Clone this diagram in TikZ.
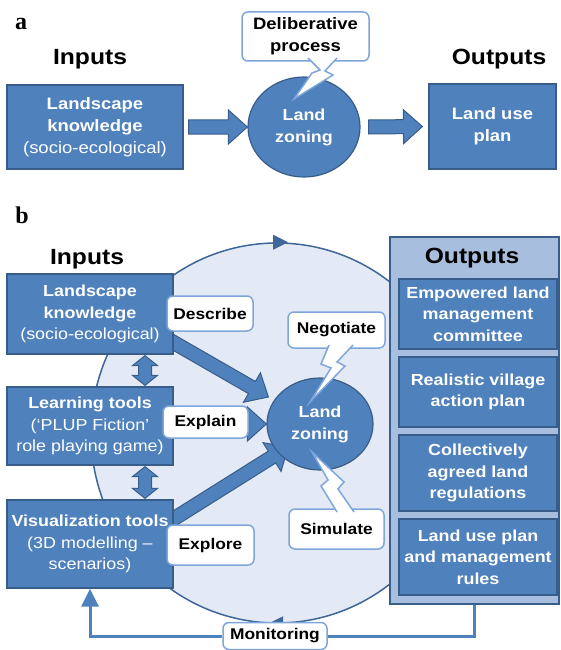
\documentclass[tikz,border=0pt]{standalone}
\usepackage{fontspec}
\setmainfont[FakeStretch=1.12]{Liberation Sans}
\newfontfamily\panelfont{Liberation Serif}
\usetikzlibrary{shapes.geometric,calc,arrows.meta}

\definecolor{boxblue}{HTML}{4F81BD}
\definecolor{boxedge}{HTML}{385D8A}
\definecolor{calledge}{HTML}{7EA6DB}
\definecolor{loopfill}{HTML}{E4EAF5}
\definecolor{loopedge}{HTML}{3E6699}
\definecolor{panelfill}{HTML}{A8BEDF}

\pgfdeclarelayer{bg}
\pgfdeclarelayer{mid}
\pgfsetlayers{bg,mid,main}

% fat arrow from #1 to #2
\newcommand\blockarrow[2]{%
  \coordinate (ba-s) at (#1);
  \coordinate (ba-e) at (#2);
  \coordinate (ba-h) at ($(ba-e)!19pt!(ba-s)$);
  \filldraw[fatarrow] ($(ba-s)!7pt!90:(ba-e)$) -- ($(ba-h)!7pt!-90:(ba-s)$)
    -- ($(ba-h)!17pt!-90:(ba-s)$) -- (ba-e) -- ($(ba-h)!17pt!90:(ba-s)$)
    -- ($(ba-h)!7pt!90:(ba-s)$) -- ($(ba-s)!7pt!-90:(ba-e)$) -- cycle;
}
% fat arrow with two heads
\newcommand\dblarrow[2]{%
  \coordinate (da-s) at (#1);
  \coordinate (da-e) at (#2);
  \coordinate (da-h) at ($(da-s)!10pt!(da-e)$);
  \coordinate (da-k) at ($(da-e)!10pt!(da-s)$);
  \filldraw[fatarrow] (da-s) -- ($(da-h)!12.5pt!90:(da-e)$) -- ($(da-h)!6.5pt!90:(da-e)$)
    -- ($(da-k)!6.5pt!-90:(da-s)$) -- ($(da-k)!12.5pt!-90:(da-s)$) -- (da-e)
    -- ($(da-k)!12.5pt!90:(da-s)$) -- ($(da-k)!6.5pt!90:(da-s)$)
    -- ($(da-h)!6.5pt!-90:(da-e)$) -- ($(da-h)!12.5pt!-90:(da-e)$) -- cycle;
}

\begin{document}
\begin{tikzpicture}[x=1pt,y=-1pt,
    box/.style={rectangle,draw=boxedge,fill=boxblue,line width=1.2pt,text=white,
      align=center,inner sep=0pt,font=\fontsize{16}{21.5}\selectfont\bfseries},
    zone/.style={ellipse,draw=boxedge,fill=boxblue,line width=1.2pt,text=white,
      align=center,inner sep=0pt,font=\fontsize{16}{22}\selectfont\bfseries},
    callout/.style={rectangle,rounded corners=6pt,draw=calledge,fill=white,line width=1.5pt,
      align=center,inner sep=0pt,font=\fontsize{15.5}{21}\selectfont\bfseries},
    tail/.style={draw=calledge,fill=white,line width=1.5pt},
    title/.style={anchor=base,font=\fontsize{22}{24}\selectfont\bfseries},
    letter/.style={anchor=base,font=\panelfont\fontsize{24}{24}\selectfont\bfseries},
    fatarrow/.style={draw=boxedge,fill=boxblue,line width=1pt,line join=miter},
    monline/.style={draw=boxblue,line width=3pt}]

  \useasboundingbox (0,0) rectangle (561,650);

  % ---- a ----
  \node[letter] (la) at (21,30) {a};
  \node[title] (inA) at (90,65) {Inputs};
  \node[title] (outA) at (499,65) {Outputs};

  \node[box,minimum width=176pt,minimum height=84pt,font=\fontsize{16.5}{22}\selectfont\bfseries]
    (lkA) at (95,127) {Landscape\\knowledge\\{\mdseries(socio-ecological)}};
  \node[zone,minimum width=112pt,minimum height=100pt] (zoneA) at (304,127) {Land\\zoning};
  \node[box,minimum width=127pt,minimum height=85pt,font=\fontsize{16.5}{22}\selectfont\bfseries]
    (planA) at (492.5,126.5) {Land use\\plan};

  \node[callout,minimum width=127pt,minimum height=49pt,font=\fontsize{16.5}{22}\selectfont\bfseries]
    (delib) at (305.5,36.5) {Deliberative\\process};
  \filldraw[tail] (308,58) -- (320,70) -- (312,73) -- (294,99) -- (333,75) -- (325,71) -- (337,58);

  \blockarrow{$(lkA.east)+(5,0)$}{zoneA.west}
  \blockarrow{$(zoneA.east)+(8,0)$}{$(planA.west)+(-6,0)$}

  % ---- b ----
  \node[letter] (lb) at (22,223) {b};
  \node[title] (inB) at (87,264) {Inputs};

  \begin{pgfonlayer}{bg}
    \node[ellipse,draw=loopedge,fill=loopfill,line width=1.5pt,minimum width=372pt,
      minimum height=380pt] (loop) at (277,433) {};
    \fill[loopedge] ($(loop.north)+(-4,-7.5)$) -- ($(loop.north)+(11,0)$) -- ($(loop.north)+(-4,7.5)$) -- cycle;
    \fill[loopedge] ($(loop.south)+(6,-7.5)$) -- ($(loop.south)+(-9,0)$) -- ($(loop.south)+(6,7.5)$) -- cycle;
  \end{pgfonlayer}

  \node[box,minimum width=166pt,minimum height=80pt] (lkB) at (90,314)
    {Landscape\\knowledge\\{\mdseries(socio-ecological)}};
  \node[box,minimum width=166pt,minimum height=78pt] (learnB) at (90,426)
    {Learning tools\\{\mdseries(‘PLUP Fiction’}\\{\mdseries role playing game)}};
  \node[box,minimum width=166pt,minimum height=88pt] (visB) at (90,544)
    {Visualization tools\\{\mdseries(3D modelling –}\\{\mdseries scenarios)}};

  \node[zone,minimum width=106pt,minimum height=92pt] (zoneB) at (320,424) {Land\\zoning};

  \node[rectangle,draw=boxedge,fill=panelfill,line width=1.2pt,minimum width=169pt,
    minimum height=367pt] (outP) at (474.5,420.5) {};
  \node[title] (outB) at (472,263) {Outputs};
  \begin{scope}[every node/.style={box,minimum width=158pt}]
    \node[minimum height=70pt] (out1) at (478,314) {Empowered land\\management\\committee};
    \node[minimum height=70pt] (out2) at (478,392) {Realistic village\\action plan};
    \node[minimum height=76pt] (out3) at (478,473) {Collectively\\agreed land\\regulations};
    \node[minimum height=76pt] (out4) at (478,557) {Land use plan\\and management\\rules};
  \end{scope}

  \begin{pgfonlayer}{mid}
    \dblarrow{$(lkB.south)+(55,1)$}{$(learnB.north)+(55,-1)$}
    \dblarrow{$(learnB.south)+(55,1)$}{$(visB.north)+(55,-1)$}
    \blockarrow{$(lkB.east)+(-13,21)$}{$(zoneB.west)+(2,-27)$}
    \blockarrow{$(learnB.east)+(-8,-2)$}{zoneB.west}
    \blockarrow{$(visB.east)+(-13,-17)$}{$(zoneB.south west)+(6,-10)$}
  \end{pgfonlayer}

  \begin{scope}[every node/.style={callout}]
    \node[minimum width=86pt,minimum height=35pt] (desc) at (210,313.5) {Describe};
    \node[minimum width=85pt,minimum height=32pt] (expl) at (205.5,422) {Explain};
    \node[minimum width=87pt,minimum height=40pt] (explo) at (210.5,545) {Explore};
    \node[minimum width=97pt,minimum height=36pt] (nego) at (336.5,330) {Negotiate};
    \node[minimum width=95pt,minimum height=40pt] (simu) at (336.5,529) {Simulate};
    \node[minimum width=104pt,minimum height=27pt] (mon) at (275,636) {Monitoring};
  \end{scope}
  \filldraw[tail] (329,345) -- (321,364) -- (331,368) -- (310,402) -- (345,366) -- (337,362) -- (353,345);
  \filldraw[tail] (337,512) -- (321,486) -- (328,480) -- (312,452) -- (344,482) -- (338,489) -- (354,512);

  \draw[monline] (outP.south) |- (mon.east);
  \draw[monline,-{Triangle[width=17pt,length=18pt]}] (mon.west) -| (visB.south);

\end{tikzpicture}
\end{document}
